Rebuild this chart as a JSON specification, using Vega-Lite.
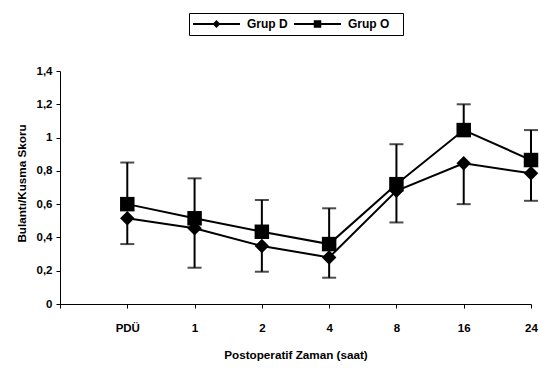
{
  "$schema": "https://vega.github.io/schema/vega-lite/v6.json",
  "width": 471,
  "height": 233,
  "autosize": {"type": "none"},
  "padding": {"left": 60, "top": 71, "right": 8, "bottom": 65},
  "background": "white",
  "config": {
    "view": {"stroke": null},
    "font": "Liberation Sans",
    "axis": {
      "domainColor": "black",
      "domainWidth": 1,
      "tickColor": "black",
      "tickWidth": 1,
      "tickSize": 4,
      "labelColor": "black",
      "labelFontWeight": "bold",
      "labelFontSize": 11.5,
      "titleColor": "black",
      "titleFontWeight": "bold",
      "titleFontSize": 11.7,
      "grid": false
    }
  },
  "data": {
    "values": [
      {"zaman": "PDÜ", "grup": "Grup D", "skor": 0.515, "hata": 0.36},
      {"zaman": "1", "grup": "Grup D", "skor": 0.455, "hata": 0.218},
      {"zaman": "2", "grup": "Grup D", "skor": 0.348, "hata": 0.194},
      {"zaman": "4", "grup": "Grup D", "skor": 0.28, "hata": 0.158},
      {"zaman": "8", "grup": "Grup D", "skor": 0.68, "hata": 0.49},
      {"zaman": "16", "grup": "Grup D", "skor": 0.845, "hata": 0.6},
      {"zaman": "24", "grup": "Grup D", "skor": 0.785, "hata": 0.62},
      {"zaman": "PDÜ", "grup": "Grup O", "skor": 0.6, "hata": 0.85},
      {"zaman": "1", "grup": "Grup O", "skor": 0.515, "hata": 0.755},
      {"zaman": "2", "grup": "Grup O", "skor": 0.434, "hata": 0.625},
      {"zaman": "4", "grup": "Grup O", "skor": 0.36, "hata": 0.575},
      {"zaman": "8", "grup": "Grup O", "skor": 0.72, "hata": 0.96},
      {"zaman": "16", "grup": "Grup O", "skor": 1.045, "hata": 1.2},
      {"zaman": "24", "grup": "Grup O", "skor": 0.865, "hata": 1.045}
    ]
  },
  "encoding": {
    "x": {
      "field": "zaman",
      "type": "ordinal",
      "sort": null,
      "scale": {"type": "point", "domain": ["", "PDÜ", "1", "2", "4", "8", "16", "24"], "padding": 0},
      "axis": {
        "title": "Postoperatif Zaman (saat)",
        "labelAngle": 0,
        "labelPadding": 14,
        "titlePadding": 16
      }
    },
    "y": {
      "field": "skor",
      "type": "quantitative",
      "title": "Bulantı/Kusma Skoru",
      "scale": {"domain": [0, 1.4], "nice": false, "zero": true},
      "axis": {
        "values": [0, 0.2, 0.4, 0.6, 0.8, 1, 1.2, 1.4],
        "format": ".1~f",
        "labelExpr": "replace(datum.label, '.', ',')",
        "labelPadding": 4,
        "titlePadding": 9,
        "titleY": 112
      }
    }
  },
  "layer": [
    {
      "mark": {"type": "rule", "color": "black", "strokeWidth": 2},
      "encoding": {"y2": {"field": "hata"}}
    },
    {
      "mark": {"type": "tick", "color": "black", "thickness": 2, "size": 14},
      "encoding": {"y": {"field": "hata", "type": "quantitative", "title": "Bulantı/Kusma Skoru"}}
    },
    {
      "mark": {"type": "line", "strokeWidth": 2},
      "encoding": {
        "color": {
          "field": "grup",
          "type": "nominal",
          "scale": {"domain": ["Grup D", "Grup O"], "range": ["black", "black"]},
          "legend": {
            "title": null,
            "orient": "none",
            "direction": "horizontal",
            "legendX": 129,
            "legendY": -58,
            "strokeColor": "black",
            "fillColor": "white",
            "padding": 4,
            "symbolSize": 2209,
            "symbolStrokeWidth": 0,
            "clipHeight": 14,
            "labelOffset": 7,
            "columnPadding": 6,
            "labelFontSize": 12,
            "labelFontWeight": "bold",
            "labelColor": "black",
            "labelExpr": "datum.label === 'Grup O' ? datum.label + '\u2800' : datum.label",
            "encode": {
              "symbols": {
                "update": {
                  "shape": {"signal": "datum.value === 'Grup D' ? 'M-1,-0.04H1V0.04H-1ZM-0.17,0L0,-0.17L0.17,0L0,0.17Z' : 'M-1,-0.04H1V0.04H-1ZM-0.16,-0.16H0.16V0.16H-0.16Z'"},
                  "fill": {"value": "black"},
                  "fillOpacity": {"value": 1},
                  "stroke": {"value": "transparent"},
                  "strokeWidth": {"value": 0},
                  "opacity": {"value": 1}
                }
              }
            }
          }
        }
      }
    },
    {
      "transform": [{"filter": "datum.grup === 'Grup D'"}],
      "mark": {"type": "point", "filled": true, "opacity": 1, "color": "black", "size": 210, "shape": "diamond"}
    },
    {
      "transform": [{"filter": "datum.grup === 'Grup O'"}],
      "mark": {"type": "point", "filled": true, "opacity": 1, "color": "black", "size": 210, "shape": "square"}
    }
  ]
}
